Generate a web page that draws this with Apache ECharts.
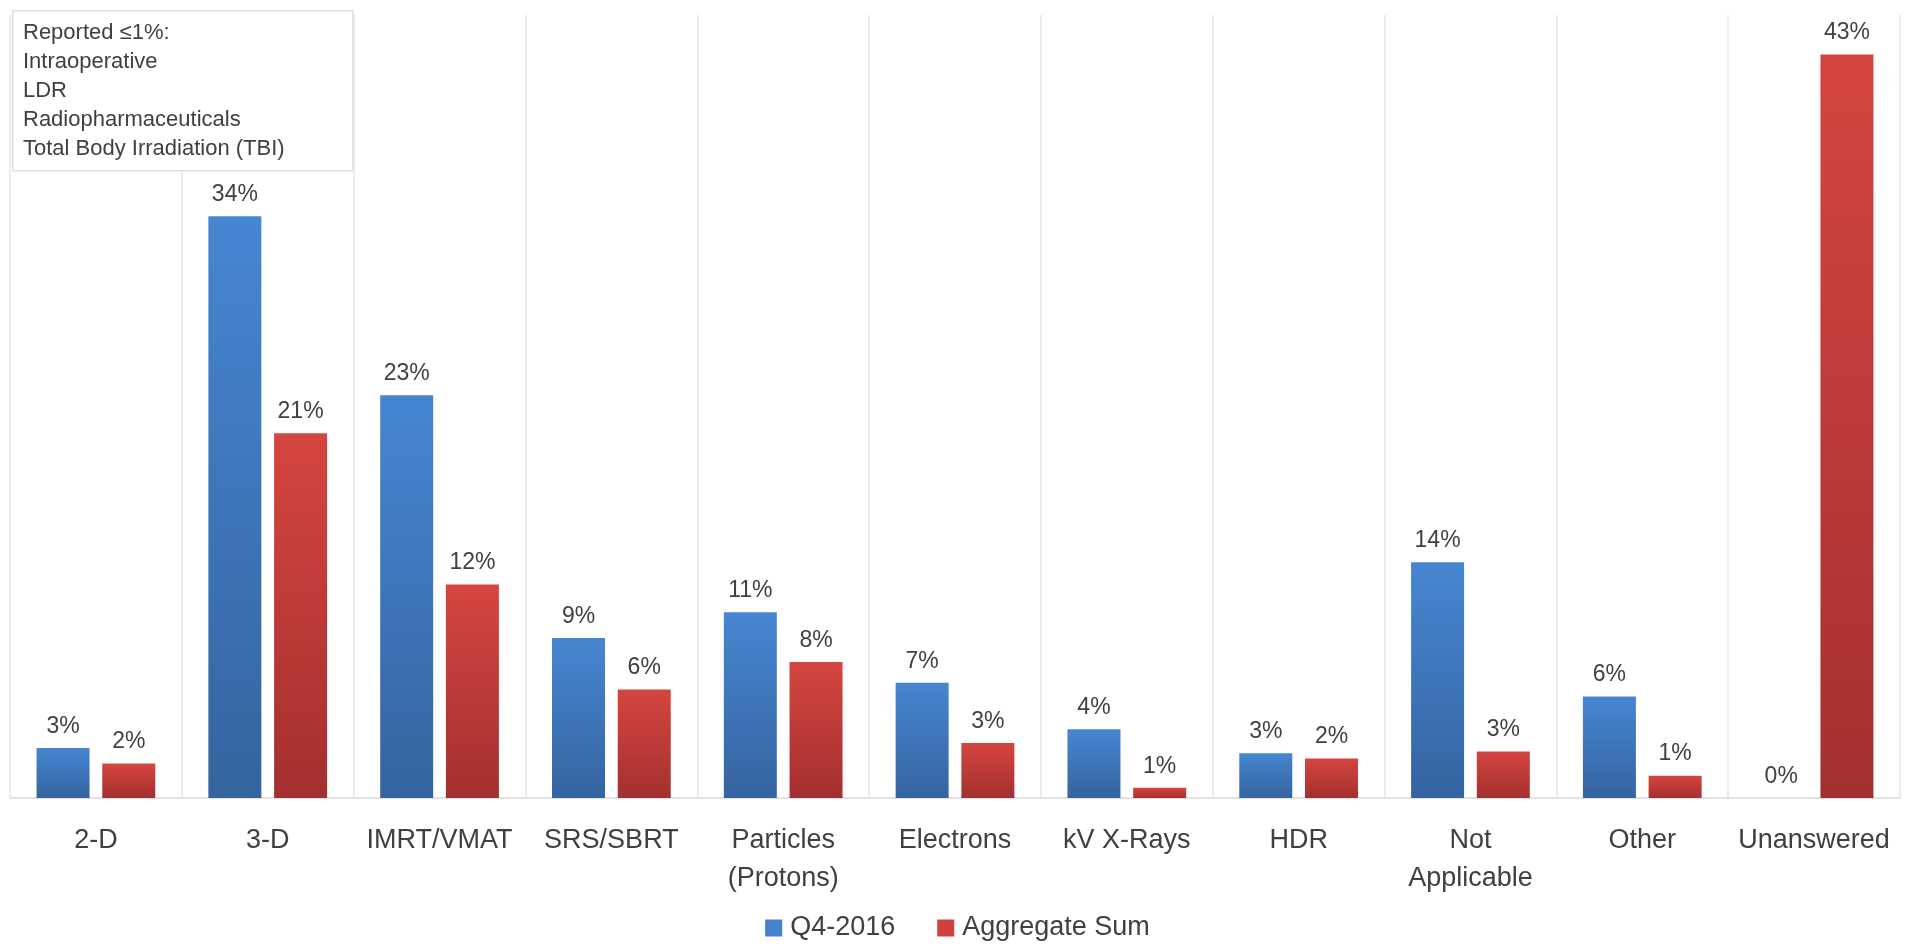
<!DOCTYPE html>
<html>
<head>
<meta charset="utf-8">
<script src="https://cdn.jsdelivr.net/npm/echarts@6/dist/echarts.min.js"></script>
<style>
html,body{margin:0;padding:0;background:#fff;}
#chart{width:1915px;height:944px;}
</style>
</head>
<body>
<div id="chart"></div>
<script>
var categories = ['2-D', '3-D', 'IMRT/VMAT', 'SRS/SBRT', 'Particles\n(Protons)', 'Electrons', 'kV X-Rays', 'HDR', 'Not\nApplicable', 'Other', 'Unanswered'];
var seriesNames = ['Q4-2016', 'Aggregate Sum'];
var q4Values = [2.9, 33.8, 23.4, 9.3, 10.8, 6.7, 4.0, 2.6, 13.7, 5.9, 0];
var aggregateValues = [2.0, 21.2, 12.4, 6.3, 7.9, 3.2, 0.6, 2.3, 2.7, 1.3, 43.2];
var noteLines = ['Reported \u22641%:', 'Intraoperative', 'LDR', 'Radiopharmaceuticals', 'Total Body Irradiation (TBI)'];

var FONT = '"Liberation Sans", Arial, sans-serif';
var chart = echarts.init(document.getElementById('chart'), null, {renderer: 'canvas'});

function grad(top, bottom) {
  return new echarts.graphic.LinearGradient(0, 0, 0, 1, [
    {offset: 0, color: top}, {offset: 1, color: bottom}
  ]);
}
var labelCfg = {
  show: true, position: 'top', distance: 10,
  fontFamily: FONT, fontSize: 23, color: '#404040',
  formatter: function (p) { return Math.round(p.value) + '%'; }
};

chart.setOption({
  animation: false,
  textStyle: {fontFamily: FONT},
  grid: {left: 10, right: 15, top: 15, bottom: 146, containLabel: false},
  legend: {
    data: [
      {name: seriesNames[0], itemStyle: {color: '#4382CC'}},
      {name: seriesNames[1], itemStyle: {color: '#CF403E'}}
    ],
    top: 913, left: 'center', padding: 0,
    icon: 'rect', itemWidth: 17, itemHeight: 17, itemGap: 42,
    textStyle: {fontFamily: FONT, fontSize: 27, lineHeight: 30, color: '#404040', padding: [0, 0, 0, 3]}
  },
  xAxis: {
    type: 'category',
    data: categories,
    boundaryGap: true,
    axisLine: {show: true, lineStyle: {color: '#d9d9d9', width: 1.5}},
    axisTick: {show: false},
    splitLine: {show: true, lineStyle: {color: '#e6e6e6', width: 1.5}},
    axisLabel: {
      interval: 0, margin: 24, fontFamily: FONT, fontSize: 27, lineHeight: 38,
      color: '#404040', verticalAlign: 'top'
    }
  },
  yAxis: {
    type: 'value', min: 0, max: 45.5, show: false,
    splitLine: {show: false}
  },
  series: [
    {
      name: seriesNames[0], type: 'bar', data: q4Values,
      barWidth: 53, barGap: '24%',
      itemStyle: {color: grad('#4686D1', '#35649F')},
      label: labelCfg
    },
    {
      name: seriesNames[1], type: 'bar', data: aggregateValues,
      barWidth: 53, barGap: '24%',
      itemStyle: {color: grad('#D5453F', '#A3302F')},
      label: labelCfg
    }
  ],
  graphic: [
    {
      type: 'rect', left: 12, top: 10, z: 100, zlevel: 0,
      shape: {x: 0, y: 0, width: 340, height: 160},
      style: {fill: '#ffffff', stroke: '#e0e0e0', lineWidth: 1.5}
    },
    {
      type: 'text', left: 23, top: 18, z: 101, zlevel: 0,
      style: {text: noteLines.join('\n'), fontFamily: FONT, fontSize: 22, lineHeight: 29, fill: '#404040'}
    }
  ]
});
</script>
</body>
</html>
